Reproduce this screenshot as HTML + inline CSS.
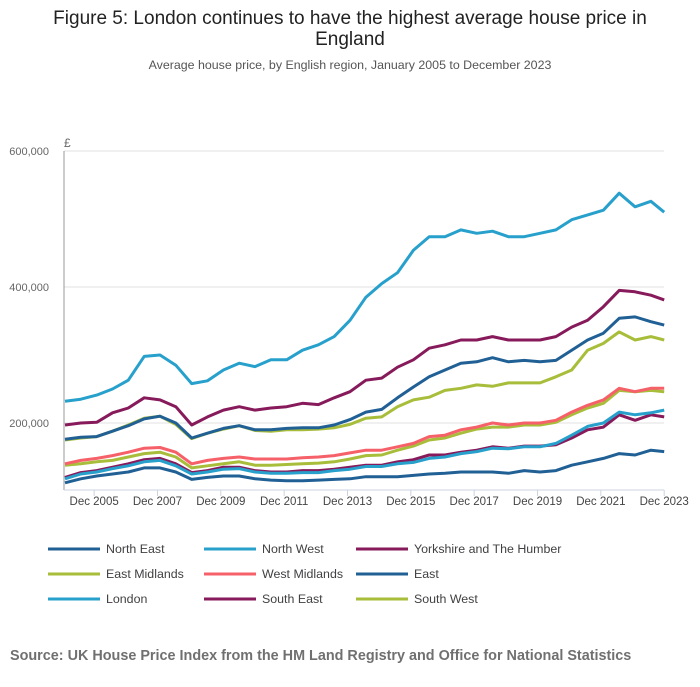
<!DOCTYPE html>
<html><head><meta charset="utf-8"><style>
body{margin:0;background:#fff;font-family:"Liberation Sans",sans-serif;}
svg text{font-family:"Liberation Sans",sans-serif;}
</style></head><body>
<svg id="chart" width="700" height="682" xmlns="http://www.w3.org/2000/svg">
<text x="350" y="24" font-size="19" fill="#222" text-anchor="middle">Figure 5: London continues to have the highest average house price in</text>
<text x="350" y="45" font-size="19" fill="#222" text-anchor="middle">England</text>
<text x="350" y="69" font-size="12.4" fill="#555" text-anchor="middle">Average house price, by English region, January 2005 to December 2023</text>
<text x="64" y="147" font-size="12" fill="#666">£</text>
<g id="grid"></g><g id="axes"></g><g id="series"></g><g id="legend"></g>
<text x="10" y="660" font-size="14.4" font-weight="bold" fill="#707071">Source: UK House Price Index from the HM Land Registry and Office for National Statistics</text>
</svg>
<script>
// semi-annual points: Jan & Jul 2005..2023, then Dec 2023 (values in £ thousands)
const dates = [];
for (let y = 2005; y <= 2023; y++) { dates.push(y); dates.push(y + 0.5); }
dates.push(2023.92);
const seriesNames = ["North East","North West","Yorkshire and The Humber","East Midlands","West Midlands","East","London","South East","South West"];
const seriesColors = ["#206095","#27a0cc","#871a5b","#a8bd3a","#f66068","#206095","#27a0cc","#871a5b","#a8bd3a"];
const northEast = [112,118,122,125,128,134,134,128,117,120,122,122,118,116,115,115,116,117,118,121,121,121,123,125,126,128,128,128,126,130,128,130,138,143,148,155,153,160,158];
const northWest = [118,125,128,133,137,143,145,137,125,128,132,133,128,126,126,127,127,130,132,136,136,140,142,148,150,155,158,163,162,165,165,170,182,195,200,216,212,215,219];
const yorkshire = [120,127,130,135,140,146,148,140,127,130,135,135,130,128,128,130,130,132,135,138,138,143,146,153,153,157,160,165,163,166,166,168,178,190,194,212,204,212,209];
const eastMidlands = [138,140,143,145,150,155,157,150,134,137,140,143,138,138,139,140,141,143,147,152,153,160,166,175,178,185,191,194,194,197,197,201,212,222,229,248,246,248,246];
const westMidlands = [140,145,148,152,157,163,164,157,140,145,148,150,147,147,147,149,150,152,156,160,160,165,170,180,182,190,194,200,197,200,200,204,216,226,234,251,246,251,251];
const east = [176,179,180,188,196,206,210,200,178,185,192,196,190,190,192,193,193,197,205,216,220,237,253,268,278,288,290,296,290,292,290,292,307,322,332,354,356,349,344];
const london = [232,235,241,250,263,298,300,285,258,262,278,288,283,293,293,307,315,327,351,385,405,421,454,474,474,484,479,482,474,474,479,484,499,506,513,538,518,526,510];
const southEast = [197,200,201,215,222,237,234,224,197,209,219,224,219,222,224,229,227,237,246,263,266,282,293,310,315,322,322,327,322,322,322,327,341,351,371,395,393,388,381];
const southWest = [175,178,180,188,197,207,210,198,177,185,191,196,189,188,190,190,191,193,198,207,209,224,234,238,248,251,256,254,259,259,259,268,278,307,317,334,322,327,322];
const allSeries = [northEast,northWest,yorkshire,eastMidlands,westMidlands,east,london,southEast,southWest];
const yTicks = [200,400,600];
const yTickLabels = ["200,000","400,000","600,000"];
const xTicks = [2005,2007,2009,2011,2013,2015,2017,2019,2021,2023];
const xTickLabels = ["Dec 2005","Dec 2007","Dec 2009","Dec 2011","Dec 2013","Dec 2015","Dec 2017","Dec 2019","Dec 2021","Dec 2023"];

const NS="http://www.w3.org/2000/svg";
const X0=65, PXY=31.67, Y200=423, PXK=0.68;
function xS(t){return X0+(t-2005)*PXY;}
function yS(v){return Y200-(v-200)*PXK;}
function mk(tag,attrs,parent){const e=document.createElementNS(NS,tag);for(const k in attrs)e.setAttribute(k,attrs[k]);parent.appendChild(e);return e;}
const grid=document.getElementById('grid'), axes=document.getElementById('axes'), ser=document.getElementById('series'), leg=document.getElementById('legend');
yTicks.forEach((v,i)=>{
  const l=mk('line',{x1:64,x2:664,y1:yS(v),y2:yS(v),stroke:'#e0e0e0','stroke-width':1},grid);
  
  
  const t=mk('text',{x:49,y:yS(v)+4,'font-size':11,fill:'#666','text-anchor':'end'},grid);
  t.textContent=yTickLabels[i];
  
  
});
const ya=mk('line',{x1:64,x2:64,y1:151,y2:490,stroke:'#999','stroke-width':1},axes);


const xa=mk('line',{x1:64,x2:664,y1:490,y2:490,stroke:'#ccd3e0','stroke-width':1},axes);


xTicks.forEach((yr,i)=>{
  const x=xS(yr+0.92);
  const tk=mk('line',{x1:x,x2:x,y1:490,y2:496,stroke:'#ccd3e0'},axes);
  
  
  const t=mk('text',{x:x,y:505,'font-size':11.5,fill:'#444','text-anchor':'middle'},axes);
  t.textContent=xTickLabels[i];
  
  
});
const drawOrder=[0,2,1,3,4,8,5,7,6];
drawOrder.forEach(i=>{
  const d=allSeries[i].map((v,j)=>(j?'L':'M')+xS(dates[j]).toFixed(1)+' '+yS(v).toFixed(1)).join(' ');
  const p=mk('path',{d:d,fill:'none',stroke:seriesColors[i],'stroke-width':3,'stroke-linejoin':'round'},ser);
  
  
});
const legX=[48,204,356], legY=[549,574,599];
seriesNames.forEach((n,i)=>{
  const x=legX[i%3], y=legY[Math.floor(i/3)];
  const g=mk('g',{},leg);
  
  
  mk('line',{x1:x,x2:x+52,y1:y,y2:y,stroke:seriesColors[i],'stroke-width':3},g);
  const t=mk('text',{x:x+58,y:y+4,'font-size':12.4,fill:'#414042'},g);
  t.textContent=n;
});
</script>
</body></html>
